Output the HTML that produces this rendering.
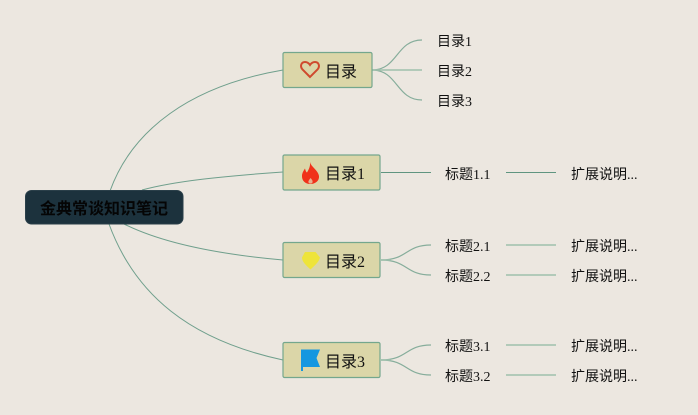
<!DOCTYPE html>
<html><head><meta charset="utf-8"><style>
html,body{margin:0;padding:0;width:698px;height:415px;overflow:hidden;background:#ece7e0}
svg{display:block}
text{font-family:"Liberation Serif","WenQuanYi Zen Hei","Noto Sans CJK SC",sans-serif;fill:#111}
</style></head><body>
<svg width="698" height="415" viewBox="0 0 698 415" xmlns="http://www.w3.org/2000/svg">
<rect width="698" height="415" fill="#ece7e0"/>
<g fill="none" stroke="#6f9f8c" stroke-width="1">
<path d="M110 191C132 130 190 86 283 70"/>
<path d="M142 190C175 181 225 176 283 172"/>
<path d="M124 224C160 242 215 254 283 260"/>
<path d="M109 224C135 295 190 340 283 360"/>
<path d="M381 172.500H431" stroke="#5f9580"/>
<path d="M506 172.500H556" stroke="#5f9580"/>
<path d="M372 70C398 70 396 40 422 40" stroke="#86ad9b" stroke-width="1.200"/>
<path d="M372 70C398 70 396 100 422 100" stroke="#86ad9b" stroke-width="1.200"/>
<path d="M381 260C408 260 405 245 431 245" stroke="#86ad9b" stroke-width="1.200"/>
<path d="M381 260C408 260 405 275 431 275" stroke="#86ad9b" stroke-width="1.200"/>
<path d="M381 360C408 360 405 345 431 345" stroke="#86ad9b" stroke-width="1.200"/>
<path d="M381 360C408 360 405 375 431 375" stroke="#86ad9b" stroke-width="1.200"/>
</g>
<g stroke="#9fc0ac" stroke-width="1.500" fill="none">
<path d="M372 70H422"/>
<path d="M381 260H391"/>
<path d="M381 360H391"/>
<path d="M506 245H556"/>
<path d="M506 275H556"/>
<path d="M506 345H556"/>
<path d="M506 375H556"/>
</g>
<rect x="25.500" y="190.500" width="157.500" height="33.500" rx="6" fill="#1c323d" stroke="#2a3f49"/>
<text x="104" y="214" font-size="16" font-weight="bold" text-anchor="middle" style="fill:#050505">金典常谈知识笔记</text>
<g fill="#dbd6a8" stroke="#74a78d" stroke-width="1.200">
<rect x="283" y="52.500" width="89" height="35" rx="1.500"/>
<rect x="283" y="155" width="97" height="35" rx="1.500"/>
<rect x="283" y="242.500" width="97" height="35" rx="1.500"/>
<rect x="283" y="342.500" width="97" height="35" rx="1.500"/>
</g>
<path d="M310 77L302.500 69.500C299.500 66 301.500 62 305 62C307.500 62 309 63.500 310 65C311 63.500 312.500 62 315 62C318.500 62 320.500 66 317.500 69.500Z" fill="none" stroke="#cf4a2e" stroke-width="2"/>
<path d="M310 162C311 167 318 170 319 176C319.500 181 315 184 310.500 184C305.500 184 301.500 181 302 175C302.500 172 304 170 305 168.500C305.500 170.500 306 172 307 172.500C309 169 310.500 166 310 162Z" fill="#f0321a"/>
<path d="M310.500 178C312 179.500 313 181 312.500 182.500C311.500 184 309.500 184 308.500 182.500C308 181 309.500 179.500 310.500 178Z" fill="#e8b090"/>
<path d="M305 252H315.500L320 257.500C319 262 314.500 265.500 310.500 269.500C306.500 265.500 302 262 302 257.500Z" fill="#eee43a"/>
<path d="M301 349.500H320L316.500 358L320 367H303V371H301Z" fill="#1497e0"/>
<g font-size="16">
<text x="325" y="77">目录</text>
<text x="325" y="179">目录1</text>
<text x="325" y="267">目录2</text>
<text x="325" y="367">目录3</text>
</g>
<g font-size="14">
<text x="437" y="46">目录1</text>
<text x="437" y="76">目录2</text>
<text x="437" y="106">目录3</text>
<text x="445" y="179">标题1.1</text>
<text x="445" y="251">标题2.1</text>
<text x="445" y="281">标题2.2</text>
<text x="445" y="351">标题3.1</text>
<text x="445" y="381">标题3.2</text>
<text x="571" y="179">扩展说明...</text>
<text x="571" y="251">扩展说明...</text>
<text x="571" y="281">扩展说明...</text>
<text x="571" y="351">扩展说明...</text>
<text x="571" y="381">扩展说明...</text>
</g>
</svg>
</body></html>
